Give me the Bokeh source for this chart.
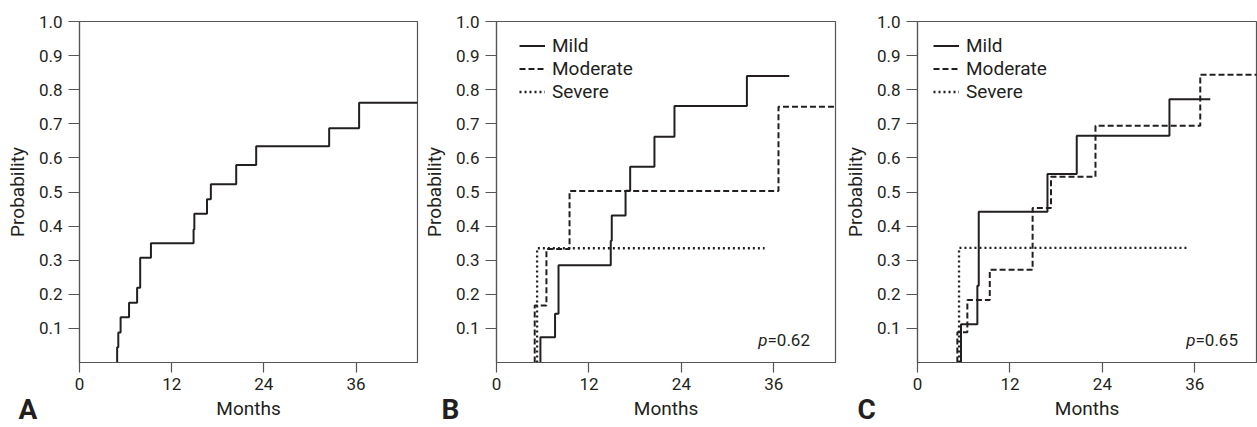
from bokeh.plotting import figure
from bokeh.layouts import row
from bokeh.models import Range1d, FixedTicker, Legend, LegendItem, Label, Title
from bokeh.embed import file_html
from bokeh.resources import INLINE

# ---------------- data ----------------
x_ticks = [0, 12, 24, 36]
x_tick_labels = ["0", "12", "24", "36"]
y_ticks = [0.1, 0.2, 0.3, 0.4, 0.5, 0.6, 0.7, 0.8, 0.9, 1.0]
y_tick_labels = ["0.1", "0.2", "0.3", "0.4", "0.5", "0.6", "0.7", "0.8", "0.9", "1.0"]
x_max = 44

# Panel A: overall
a_time = [4.9, 5.05, 5.35, 6.45, 7.5, 7.9, 9.3, 14.85, 14.95, 16.6, 17.1, 20.4, 23.0, 32.5, 36.4]
a_prob = [0.045, 0.088, 0.133, 0.175, 0.219, 0.307, 0.350, 0.390, 0.436, 0.479, 0.523, 0.579, 0.634, 0.687, 0.762]
a_end = 44.5

# Panel B
b_mild_time = [5.7, 7.6, 8.05, 14.83, 14.96, 16.75, 17.35, 20.5, 23.1, 32.5]
b_mild_prob = [0.074, 0.143, 0.285, 0.357, 0.431, 0.504, 0.574, 0.662, 0.752, 0.840]
b_mild_end = 38.0
b_mod_time = [4.96, 6.48, 9.48, 36.6]
b_mod_prob = [0.167, 0.333, 0.503, 0.750]
b_mod_end = 44.5
b_sev_time = [5.27]
b_sev_prob = [0.335]
b_sev_end = 34.8
b_pvalue = "=0.62"

# Panel C
c_mild_time = [5.65, 7.77, 7.95, 16.87, 20.67, 32.7]
c_mild_prob = [0.112, 0.225, 0.442, 0.553, 0.665, 0.772]
c_mild_end = 38.0
c_mod_time = [5.17, 6.47, 9.38, 14.94, 17.33, 23.1, 36.7]
c_mod_prob = [0.089, 0.183, 0.272, 0.453, 0.545, 0.694, 0.844]
c_mod_end = 44.5
c_sev_time = [5.39]
c_sev_prob = [0.336]
c_sev_end = 35.0
c_pvalue = "=0.65"

series_names = ["Mild", "Moderate", "Severe"]
panel_letters = ["A", "B", "C"]

# ---------------- style ----------------
FONT = "Roboto"
INK = "#231f20"
AXC = "#555555"
DASHES = {"Mild": "solid", "Moderate": "6 3", "Severe": "2 3"}
WIDTHS = {"Mild": 2, "Moderate": 2, "Severe": 2.3}
TICK_FS = "17px"
TITLE_FS = "19px"


def steps(t, p, end):
    xs = [t[0]]
    ys = [0.0]
    prev = 0.0
    for ti, pi in zip(t, p):
        xs += [ti, ti]
        ys += [prev, pi]
        prev = pi
    xs.append(end)
    ys.append(prev)
    return xs, ys


def make_fig(width, left, right, letter, letter_offset):
    p = figure(width=width, height=426, x_range=Range1d(0, x_max), y_range=Range1d(0, 1.0),
               output_backend="svg", toolbar_location=None,
               min_border_left=left, min_border_right=right, min_border_top=21, min_border_bottom=64)
    p.grid.visible = False
    p.background_fill_color = "white"
    p.border_fill_color = "white"
    p.outline_line_color = AXC
    p.outline_line_width = 1.2
    p.outline_line_alpha = 1.0
    for ax in (p.xaxis[0], p.yaxis[0]):
        ax.axis_line_color = AXC
        ax.axis_line_width = 1.2
        ax.major_tick_line_color = AXC
        ax.major_tick_line_width = 1.2
        ax.major_tick_in = 0
        ax.minor_tick_line_color = None
        ax.major_label_text_font = FONT
        ax.major_label_text_font_size = TICK_FS
        ax.major_label_text_color = INK
        ax.axis_label_text_font = FONT
        ax.axis_label_text_font_size = TITLE_FS
        ax.axis_label_text_font_style = "normal"
        ax.axis_label_text_color = INK
    p.xaxis.ticker = FixedTicker(ticks=x_ticks)
    p.xaxis.major_label_overrides = dict(zip(x_ticks, x_tick_labels))
    p.yaxis.ticker = FixedTicker(ticks=y_ticks)
    p.yaxis.major_label_overrides = dict(zip(y_ticks, y_tick_labels))
    p.xaxis.major_tick_out = 10
    p.yaxis.major_tick_out = 11
    p.xaxis.major_label_standoff = 5
    p.yaxis.major_label_standoff = 6
    p.xaxis.axis_label_standoff = 4
    p.yaxis.axis_label_standoff = 7
    p.xaxis.axis_label = "Months"
    p.yaxis.axis_label = "Probability"
    # panel letter, drawn in the bottom side panel (zero-height title)
    p.add_layout(Title(text=letter, align="left", offset=letter_offset, standoff=-60,
                       vertical_align="top", text_font=FONT, text_font_size="28px",
                       text_font_style="bold", text_color=INK), "below")
    return p


def add_pvalue(p, text, x_screen):
    p.add_layout(Label(x=x_screen, y=23, x_units="screen", y_units="screen", text="p",
                       text_font=FONT, text_font_size=TICK_FS, text_font_style="italic",
                       text_color=INK, text_baseline="alphabetic", text_align="right"))
    p.add_layout(Label(x=x_screen, y=23, x_units="screen", y_units="screen", text=text,
                       text_font=FONT, text_font_size=TICK_FS,
                       text_color=INK, text_baseline="alphabetic", text_align="left"))


def add_series(p, groups, legend_x):
    items = []
    for name, (t, pr, end) in zip(series_names, groups):
        xs, ys = steps(t, pr, end)
        r = p.line(xs, ys, line_color=INK, line_width=WIDTHS[name], line_dash=DASHES[name])
        items.append(LegendItem(label=name, renderers=[r]))
    leg = Legend(items=items, location=(legend_x, 259), margin=0, padding=0, spacing=0,
                 glyph_width=26, glyph_height=23, label_height=23, label_standoff=7,
                 label_text_font=FONT, label_text_font_size=TITLE_FS, label_text_color=INK,
                 border_line_color=None, background_fill_alpha=0)
    p.add_layout(leg)


# Panel A
pa = make_fig(419, 79, 2, panel_letters[0], -61)
xs, ys = steps(a_time, a_prob, a_end)
pa.line(xs, ys, line_color=INK, line_width=2)

# Panel B
pb = make_fig(419, 77, 3, panel_letters[1], -55)
add_series(pb, [(b_mild_time, b_mild_prob, b_mild_end),
                (b_mod_time, b_mod_prob, b_mod_end),
                (b_sev_time, b_sev_prob, b_sev_end)], 23)
add_pvalue(pb, b_pvalue, 271)

# Panel C
pc = make_fig(419, 79, 1, panel_letters[2], -60)
add_series(pc, [(c_mild_time, c_mild_prob, c_mild_end),
                (c_mod_time, c_mod_prob, c_mod_end),
                (c_sev_time, c_sev_prob, c_sev_end)], 16)
add_pvalue(pc, c_pvalue, 278)

layout = row(pa, pb, pc)
open("out.html", "w").write(file_html(layout, INLINE))
